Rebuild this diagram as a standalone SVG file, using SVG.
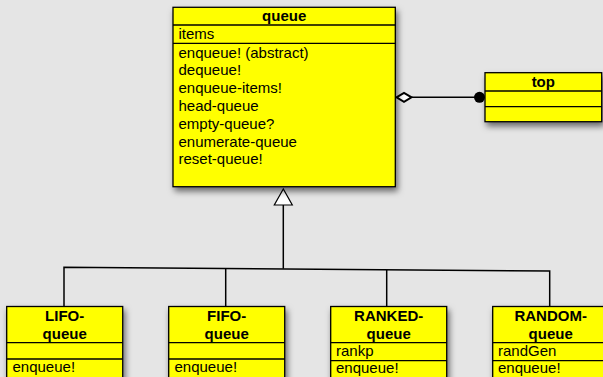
<svg xmlns="http://www.w3.org/2000/svg" width="603" height="377" viewBox="0 0 603 377">
<defs>
<filter id="sh" x="-20%" y="-20%" width="150%" height="150%">
<feDropShadow dx="2" dy="4" stdDeviation="3" flood-color="#000" flood-opacity="0.55"/>
</filter>
</defs>
<style>
.box{fill:#ffff00;stroke:#000;stroke-width:1.3}
.div{stroke:#000;stroke-width:1.3}
.t{font-family:"Liberation Sans",Arial,sans-serif;font-size:15px;fill:#000}
.b{font-weight:bold;text-anchor:middle}
.ln{fill:none;stroke:#000;stroke-width:1.5}
</style>
<rect x="0" y="0" width="603" height="377" fill="#e5e5e5"/>
<g id="connectors">
<polyline class="ln" points="64,307 64,267.3 549.7,271 549.7,307"/>
<line class="ln" x1="225.7" y1="268.5" x2="225.7" y2="307"/>
<line class="ln" x1="386.7" y1="269.8" x2="386.7" y2="307"/>
<line class="ln" stroke-width="1.2" x1="283.3" y1="205" x2="283.3" y2="268.7"/>
<polygon points="283.3,189 274.3,205 292.3,205" fill="#fff" stroke="#000" stroke-width="1.2"/>
<line class="ln" stroke-width="2.2" x1="411.5" y1="97.3" x2="476" y2="97.3"/>
<polygon points="396.5,97.3 404,92.8 411.5,97.3 404,101.8" fill="#fff" stroke="#000" stroke-width="2"/>
<circle cx="479.5" cy="97.3" r="5.5" fill="#000"/>
</g>
<g id="queue">
<rect class="box" filter="url(#sh)" x="173" y="7.3" width="222.3" height="179.4"/>
<line class="div" x1="173" y1="25" x2="395.3" y2="25"/>
<line class="div" x1="173" y1="43.3" x2="395.3" y2="43.3"/>
<text class="t b" x="284.2" y="21">queue</text>
<text class="t" x="178.5" y="38.7">items</text>
<text class="t" x="178.5" y="57.5">enqueue! (abstract)</text>
<text class="t" x="178.5" y="75.3">dequeue!</text>
<text class="t" x="178.5" y="93.1">enqueue-items!</text>
<text class="t" x="178.5" y="110.9">head-queue</text>
<text class="t" x="178.5" y="128.7">empty-queue?</text>
<text class="t" x="178.5" y="146.5">enumerate-queue</text>
<text class="t" x="178.5" y="164.3">reset-queue!</text>
</g>
<g id="top">
<rect class="box" filter="url(#sh)" x="485" y="72.7" width="116.7" height="49"/>
<line class="div" x1="485" y1="91" x2="601.7" y2="91"/>
<line class="div" x1="485" y1="106.7" x2="601.7" y2="106.7"/>
<text class="t b" x="543.3" y="86.5">top</text>
</g>
<g id="lifo">
<rect class="box" filter="url(#sh)" x="6.7" y="306.5" width="116" height="85"/>
<line class="div" x1="6.7" y1="342.7" x2="122.7" y2="342.7"/>
<line class="div" x1="6.7" y1="359" x2="122.7" y2="359"/>
<text class="t b" x="64.7" y="321">LIFO-</text>
<text class="t b" x="64.7" y="338.7">queue</text>
<text class="t" x="12.5" y="372.3">enqueue!</text>
</g>
<g id="fifo">
<rect class="box" filter="url(#sh)" x="168.7" y="306.5" width="116" height="85"/>
<line class="div" x1="168.7" y1="342.7" x2="284.7" y2="342.7"/>
<line class="div" x1="168.7" y1="359" x2="284.7" y2="359"/>
<text class="t b" x="226.7" y="321">FIFO-</text>
<text class="t b" x="226.7" y="338.7">queue</text>
<text class="t" x="174.5" y="372.3">enqueue!</text>
</g>
<g id="ranked">
<rect class="box" filter="url(#sh)" x="330.7" y="306.5" width="116" height="85"/>
<line class="div" x1="330.7" y1="342.7" x2="446.7" y2="342.7"/>
<line class="div" x1="330.7" y1="360.7" x2="446.7" y2="360.7"/>
<text class="t b" x="388.7" y="321">RANKED-</text>
<text class="t b" x="388.7" y="338.7">queue</text>
<text class="t" x="336" y="355.7">rankp</text>
<text class="t" x="336" y="373.3">enqueue!</text>
</g>
<g id="random">
<rect class="box" filter="url(#sh)" x="492.7" y="306.5" width="116" height="85"/>
<line class="div" x1="492.7" y1="342.7" x2="608.7" y2="342.7"/>
<line class="div" x1="492.7" y1="360.7" x2="608.7" y2="360.7"/>
<text class="t b" x="550.7" y="321">RANDOM-</text>
<text class="t b" x="550.7" y="338.7">queue</text>
<text class="t" x="498" y="355.7">randGen</text>
<text class="t" x="498" y="373.3">enqueue!</text>
</g>
</svg>
